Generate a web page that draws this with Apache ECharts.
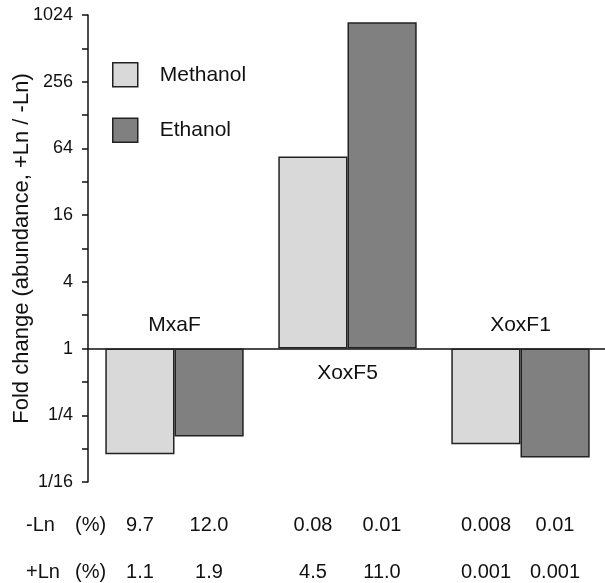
<!DOCTYPE html>
<html>
<head>
<meta charset="utf-8">
<script src="https://cdn.jsdelivr.net/npm/echarts@6/dist/echarts.min.js"></script>
<style>
  html, body { margin: 0; padding: 0; background: #fff; }
  #chart { width: 605px; height: 583px; }
</style>
</head>
<body>
<div id="chart"></div>
<script>
// enzimas y fold change (+Ln / -Ln)
const categories = ['MxaF', 'XoxF5', 'XoxF1']
const methanol = [0.111, 54, 0.137]
const ethanol = [0.161, 880, 0.104]

// tabla de abundancias (%) debajo del eje
const minusLnMethanol = ['9.7', '0.08', '0.008']
const minusLnEthanol = ['12.0', '0.01', '0.01']
const plusLnMethanol = ['1.1', '4.5', '0.001']
const plusLnEthanol = ['1.9', '11.0', '0.001']

const yMin = 1 / 16
const yMax = 1024

const font = 'Liberation Sans, Arial, sans-serif'
const gridTop = 15
const gridHeight = 467

// la línea base (y = 1) está dentro del grid, calcular su desplazamiento
const baseOffset = -gridHeight * (Math.log2(1) - Math.log2(yMin)) / (Math.log2(yMax) - Math.log2(yMin))

// si las barras suben, la etiqueta va debajo de la línea
const barsUp = categories.map((_, i) => methanol[i] > 1 && ethanol[i] > 1)

function powLabel(v) {
  const e = Math.round(Math.log2(v))
  if (e % 2 !== 0) return ''
  return e >= 0 ? String(Math.pow(2, e)) : '1/' + Math.pow(2, -e)
}

const chart = echarts.init(document.getElementById('chart'))

chart.setOption({
  animation: false,
  textStyle: { fontFamily: font, color: '#111' },
  title: {
    left: 26,
    top: 502,
    padding: 0,
    text: '{a|-Ln}{b|(%)}\n{a|+Ln}{b|(%)}',
    textStyle: {
      fontWeight: 'normal',
      rich: {
        a: { width: 49, fontSize: 20, lineHeight: 47, fontFamily: font, color: '#111', fontWeight: 'normal' },
        b: { fontSize: 20, lineHeight: 47, fontFamily: font, color: '#111', fontWeight: 'normal' }
      }
    }
  },
  legend: {
    orient: 'vertical',
    left: 112,
    top: 62,
    padding: 0,
    itemWidth: 25,
    itemHeight: 24,
    itemGap: 30,
    icon: 'rect',
    itemStyle: { borderColor: '#222', borderWidth: 1.5 },
    textStyle: { fontSize: 21, fontFamily: font, color: '#111', padding: [0, 0, 0, 17] },
    data: ['Methanol', 'Ethanol']
  },
  grid: { left: 88, top: gridTop, width: 519, height: gridHeight, outerBoundsMode: 'none', containLabel: false },
  xAxis: [
    {
      type: 'category',
      data: categories,
      position: 'bottom',
      offset: baseOffset,
      axisLine: { show: true, lineStyle: { color: '#111', width: 1.5 } },
      axisTick: { show: false },
      axisLabel: {
        fontSize: 21, color: '#111', margin: 14,
        formatter: (v, i) => barsUp[i] ? v : ''
      }
    },
    {
      type: 'category',
      data: categories,
      position: 'bottom',
      offset: baseOffset,
      axisLine: { show: false },
      axisTick: { show: false },
      axisLabel: {
        inside: true, fontSize: 21, color: '#111', margin: 13,
        formatter: (v, i) => barsUp[i] ? '' : v
      }
    },
    {
      type: 'category',
      data: categories,
      position: 'bottom',
      axisLine: { show: false },
      axisTick: { show: false },
      axisLabel: {
        margin: 20,
        interval: 0,
        formatter: (v, i) => '{v|' + minusLnMethanol[i] + '}{v|' + minusLnEthanol[i] + '}\n' +
          '{v|' + plusLnMethanol[i] + '}{v|' + plusLnEthanol[i] + '}',
        rich: {
          v: { width: 69, align: 'center', fontSize: 20, lineHeight: 47, fontFamily: font, color: '#111' }
        }
      }
    }
  ],
  yAxis: {
    type: 'log',
    logBase: 2,
    min: yMin,
    max: yMax,
    interval: 1,
    name: 'Fold change (abundance, +Ln / -Ln)',
    nameLocation: 'middle',
    nameGap: 55,
    nameMoveOverlap: false,
    nameTextStyle: { fontSize: 22, color: '#111', fontFamily: font },
    axisLine: { show: true, lineStyle: { color: '#111', width: 1.5 } },
    axisTick: { show: true, length: 6, lineStyle: { color: '#111', width: 1.5 } },
    axisLabel: { fontSize: 18, color: '#111', margin: 15, formatter: powLabel },
    splitLine: { show: false }
  },
  series: [
    {
      name: 'Methanol',
      type: 'bar',
      xAxisIndex: 0,
      barGap: '0%',
      barCategoryGap: '20%',
      itemStyle: { color: '#d9d9d9', borderColor: '#222', borderWidth: 1.5 },
      data: methanol
    },
    {
      name: 'Ethanol',
      type: 'bar',
      xAxisIndex: 0,
      barGap: '0%',
      barCategoryGap: '20%',
      itemStyle: { color: '#808080', borderColor: '#222', borderWidth: 1.5 },
      data: ethanol
    }
  ]
})
</script>
</body>
</html>
